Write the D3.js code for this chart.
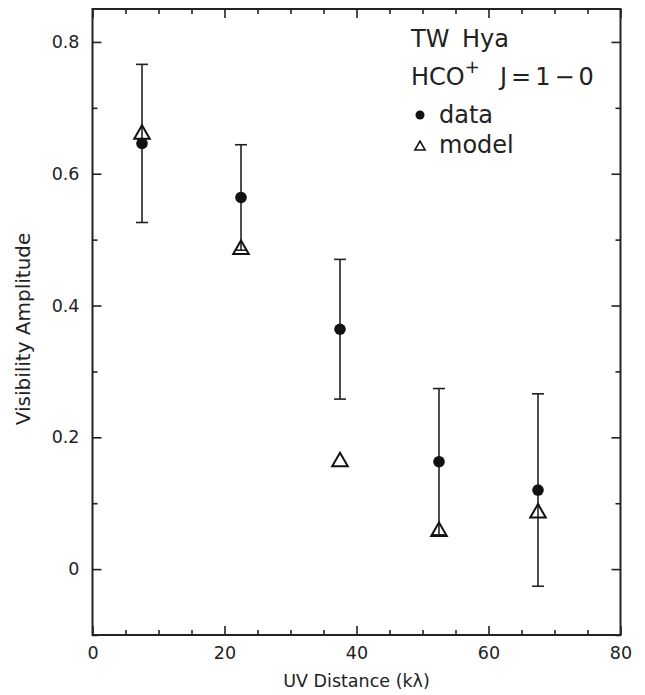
<!DOCTYPE html>
<html>
<head>
<meta charset="utf-8">
<script src="https://cdn.jsdelivr.net/npm/d3@7"></script>
<style>
  body { margin: 0; background: #fff; }
  text { font-family: "DejaVu Sans", sans-serif; fill: #222; }
</style>
</head>
<body>
<div id="chart"></div>
<script>
// uv distance bins (k lambda)
var uvDist = [7.5, 22.5, 37.5, 52.5, 67.5];
// observed visibility amplitude and 1-sigma errors
var dataAmp = [0.646, 0.564, 0.364, 0.163, 0.120];
var dataErr = [0.120, 0.080, 0.106, 0.111, 0.146];
// model visibility amplitude
var modelAmp = [0.660, 0.485, 0.163, 0.057, 0.085];

var xMajor = [0, 20, 40, 60, 80];
var xMinor = [5, 10, 15, 25, 30, 35, 45, 50, 55, 65, 70, 75];
var yMajor = [0, 0.2, 0.4, 0.6, 0.8];
var yMinor = [-0.1, 0.1, 0.3, 0.5, 0.7];

var width = 645, height = 695;
var margin = {top: 9, right: 24.5, bottom: 60, left: 92.5};

var svg = d3.select("#chart")
  .append("svg")
    .attr("width", width)
    .attr("height", height);

var x = d3.scaleLinear()
  .domain([0, 80])
  .range([margin.left, width - margin.right]);
var y = d3.scaleLinear()
  .domain([-0.1, 0.85])
  .range([height - margin.bottom, margin.top]);

var x0 = x.range()[0], x1 = x.range()[1];
var y0 = y.range()[0], y1 = y.range()[1];

function fmt(d) { return d === 0 ? "0" : d3.format(".1f")(d); }

// axes: ticks point inward on all four sides
svg.append("g")
  .attr("transform", "translate(0," + y0 + ")")
  .call(d3.axisBottom(x).tickValues(xMajor).tickSize(-9).tickPadding(12).tickFormat(d3.format("d")));
svg.append("g")
  .attr("transform", "translate(0," + y0 + ")")
  .call(d3.axisBottom(x).tickValues(xMinor).tickSize(-5).tickFormat(""));
svg.append("g")
  .attr("transform", "translate(0," + y1 + ")")
  .call(d3.axisTop(x).tickValues(xMajor).tickSize(-9).tickFormat(""));
svg.append("g")
  .attr("transform", "translate(0," + y1 + ")")
  .call(d3.axisTop(x).tickValues(xMinor).tickSize(-5).tickFormat(""));

svg.append("g")
  .attr("transform", "translate(" + x0 + ",0)")
  .call(d3.axisLeft(y).tickValues(yMajor).tickSize(-9).tickPadding(13).tickFormat(fmt));
svg.append("g")
  .attr("transform", "translate(" + x0 + ",0)")
  .call(d3.axisLeft(y).tickValues(yMinor).tickSize(-5).tickFormat(""));
svg.append("g")
  .attr("transform", "translate(" + x1 + ",0)")
  .call(d3.axisRight(y).tickValues(yMajor).tickSize(-9).tickFormat(""));
svg.append("g")
  .attr("transform", "translate(" + x1 + ",0)")
  .call(d3.axisRight(y).tickValues(yMinor).tickSize(-5).tickFormat(""));

svg.selectAll(".domain").remove();
svg.selectAll(".tick line").attr("stroke", "#222").attr("stroke-width", 1.6);
svg.selectAll(".tick text").style("font-size", "17.5px").attr("fill", "#222");

// frame
svg.append("rect")
  .attr("x", x0).attr("y", y1)
  .attr("width", x1 - x0).attr("height", y0 - y1)
  .attr("fill", "none").attr("stroke", "#222").attr("stroke-width", 2);

// axis titles
svg.append("text")
  .attr("x", x(40)).attr("y", 687)
  .attr("text-anchor", "middle")
  .style("font-size", "17.5px")
  .text("UV Distance (kλ)");
svg.append("text")
  .attr("transform", "translate(30,329) rotate(-90)")
  .attr("text-anchor", "middle")
  .style("font-size", "20px")
  .text("Visibility Amplitude");

var pts = uvDist.map(function(d, i) {
  return {u: d, amp: dataAmp[i], err: dataErr[i], model: modelAmp[i]};
});

// error bars
var eb = svg.append("g").attr("stroke", "#222").attr("stroke-width", 1.6);
eb.selectAll("line.bar").data(pts).enter().append("line")
  .attr("x1", function(d) { return x(d.u); })
  .attr("x2", function(d) { return x(d.u); })
  .attr("y1", function(d) { return y(d.amp - d.err); })
  .attr("y2", function(d) { return y(d.amp + d.err); });
eb.selectAll("line.top").data(pts).enter().append("line")
  .attr("x1", function(d) { return x(d.u) - 6; })
  .attr("x2", function(d) { return x(d.u) + 6; })
  .attr("y1", function(d) { return y(d.amp + d.err); })
  .attr("y2", function(d) { return y(d.amp + d.err); });
eb.selectAll("line.bot").data(pts).enter().append("line")
  .attr("x1", function(d) { return x(d.u) - 6; })
  .attr("x2", function(d) { return x(d.u) + 6; })
  .attr("y1", function(d) { return y(d.amp - d.err); })
  .attr("y2", function(d) { return y(d.amp - d.err); });

// model triangles
var tri = d3.symbol().type(d3.symbolTriangle).size(105);
svg.selectAll("path.model").data(pts).enter().append("path")
  .attr("d", tri)
  .attr("transform", function(d) { return "translate(" + x(d.u) + "," + y(d.model) + ")"; })
  .attr("fill", "none").attr("stroke", "#111").attr("stroke-width", 2);

// data points
svg.selectAll("circle.data").data(pts).enter().append("circle")
  .attr("cx", function(d) { return x(d.u); })
  .attr("cy", function(d) { return y(d.amp); })
  .attr("r", 5.8)
  .attr("fill", "#111");

// legend
var lg = svg.append("g").style("font-size", "24px");
var t1 = lg.append("text").attr("x", 411).attr("y", 47);
t1.append("tspan").text("TW");
t1.append("tspan").attr("x", 462).text("Hya");
var t2 = lg.append("text").attr("x", 411).attr("y", 85);
t2.append("tspan").text("HCO");
t2.append("tspan").attr("dy", -12).style("font-size", "18px").text("+");
t2.append("tspan").attr("dy", 12).attr("x", 500).style("letter-spacing", "4px").text("J=1−0");
lg.append("circle").attr("cx", 420).attr("cy", 115).attr("r", 4.5).attr("fill", "#111");
lg.append("text").attr("x", 439).attr("y", 123).text("data");
lg.append("path")
  .attr("d", d3.symbol().type(d3.symbolTriangle).size(45))
  .attr("transform", "translate(420,147)")
  .attr("fill", "none").attr("stroke", "#111").attr("stroke-width", 1.6);
lg.append("text").attr("x", 439).attr("y", 153).text("model");
</script>
</body>
</html>
